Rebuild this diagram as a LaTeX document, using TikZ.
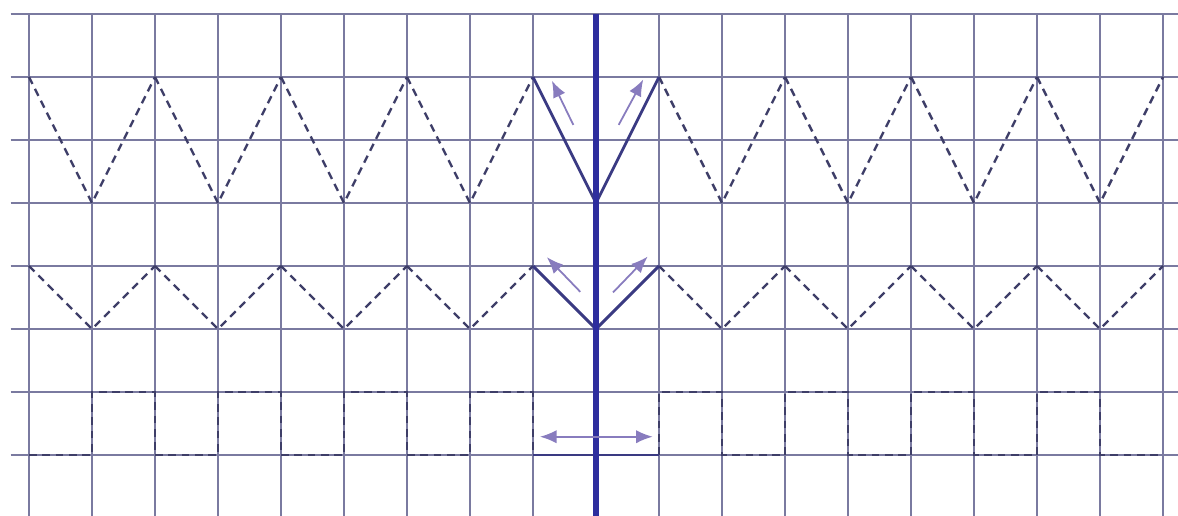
\documentclass[tikz,border=0pt]{standalone}
\usetikzlibrary{arrows.meta}
\definecolor{gridcol}{RGB}{122,122,160}
\definecolor{zigcol}{RGB}{62,62,104}
\definecolor{vcol}{RGB}{58,58,130}
\definecolor{axiscol}{RGB}{46,46,158}
\definecolor{arrcol}{RGB}{136,124,190}
\tikzset{
  gridline/.style={gridcol, line width=0.9pt},
  zig/.style={zigcol, line width=1.1pt, dash pattern=on 3.5pt off 2.5pt},
  vline/.style={vcol, line width=1.3pt, line join=round},
  motion/.style={arrcol, line width=0.8pt, -{Latex[length=7.5pt,width=6pt]}},
}
\begin{document}
\begin{tikzpicture}[>=stealth, scale=1.0]
  \useasboundingbox (-0.4603,-0.968) rectangle (18.238,7.222);
  \foreach \y in {0,...,7} \draw[gridline] (-0.29,\y) -- (18.238,\y);
  \foreach \x in {0,...,18} \draw[gridline] (\x,7) -- (\x,-0.968);
  \foreach \i in {0,2,4,6,10,12,14,16} {
    \draw[zig] (\i,6) -- (\i+1,4) -- (\i+2,6);
    \draw[zig] (\i,3) -- (\i+1,2) -- (\i+2,3);
  }
  \foreach \i in {0,2,4,6} \draw[zig] (\i,0) -- (\i+1,0) -- (\i+1,1) -- (\i+2,1) -- (\i+2,0);
  \foreach \i in {10,12,14,16} \draw[zig] (\i,0) -- (\i,1) -- (\i+1,1) -- (\i+1,0) -- (\i+2,0);
  \draw[vline] (8,6) -- (9,4) -- (10,6);
  \draw[vline] (8,3) -- (9,2) -- (10,3);
  \draw[vline] (8,0) -- (10,0);
  \draw[axiscol, line width=2.4pt] (9,7) -- (9,-0.968);
  \draw[motion] (8.64,5.24) -- (8.30,5.94);
  \draw[motion] (9.36,5.24) -- (9.75,5.96);
  \draw[motion] (8.75,2.59) -- (8.22,3.14);
  \draw[motion] (9.27,2.58) -- (9.82,3.15);
  \draw[motion, {Latex[length=7.5pt,width=6pt]}-{Latex[length=7.5pt,width=6pt]}] (8.11,0.29) -- (9.90,0.29);
\end{tikzpicture}
\end{document}
